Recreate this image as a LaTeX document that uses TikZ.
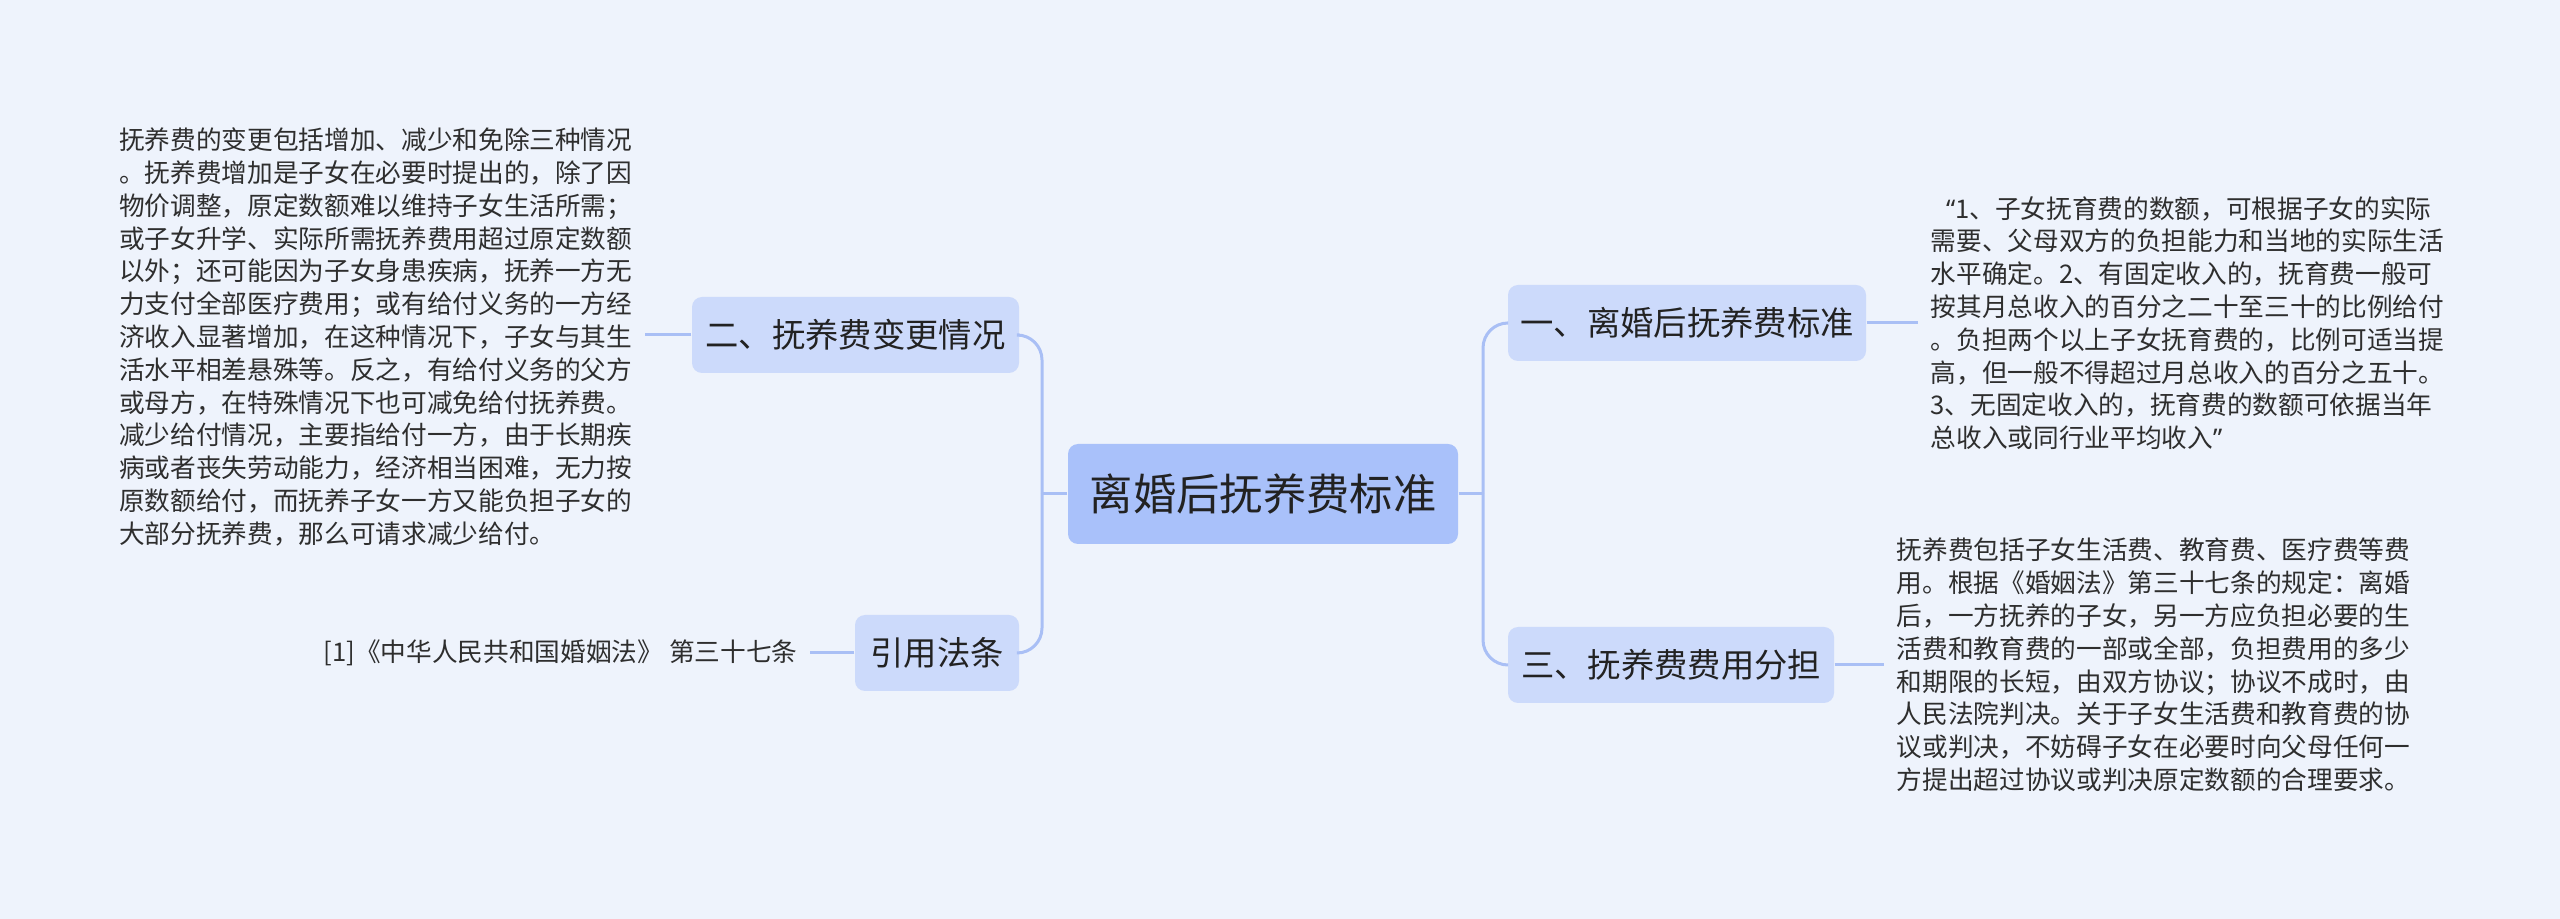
\documentclass[tikz,border=0pt]{standalone}
\usepackage{fontspec}
\setmainfont{Noto Sans CJK SC}
\newfontfamily\quotefont{Noto Sans}
\definecolor{cbg}{HTML}{EEF3FC}
\definecolor{cmain}{HTML}{A9C1FA}
\definecolor{cbranch}{HTML}{CCDAFB}
\definecolor{cline}{HTML}{A9BFF5}
\definecolor{ctext}{HTML}{222222}
\definecolor{cbody}{HTML}{2E2E2E}
\begin{document}
\begin{tikzpicture}[x=0.3pt,y=-0.3pt,
  mainbox/.style={fill=cmain, rounded corners=3pt, minimum width=117pt, minimum height=30pt, font=\fontsize{13}{15}\selectfont, text=ctext, inner sep=0pt},
  branchbox/.style={fill=cbranch, rounded corners=3pt, minimum height=22.8pt, font=\fontsize{10}{12}\selectfont, text=ctext, inner sep=0pt},
  bodytext/.style={font=\fontsize{7.7}{9.84}\selectfont, align=left, inner xsep=3.6pt, inner ysep=0pt, text=cbody},
  link/.style={draw=cline, line width=0.9pt}]
\fill[cbg] (0,0) rectangle (2560,919);
\useasboundingbox (0,0) rectangle (2560,919);

\node[mainbox] (c) at (1263,494) {离婚后抚养费标准};
\node[branchbox, minimum width=107.4pt] (b1) at (1687,323) {一、离婚后抚养费标准};
\node[branchbox, minimum width=97.8pt] (b3) at (1671,665) {三、抚养费费用分担};
\node[branchbox, minimum width=98.1pt] (b2) at (855.5,335) {二、抚养费变更情况};
\node[branchbox, minimum width=49.2pt] (b4) at (937,653) {引用法条};

\node[bodytext, anchor=west] (t1) at (1918,323) {\hspace*{0.6em}{\quotefont “}1、子女抚育费的数额，可根据子女的实际\\
需要、父母双方的负担能力和当地的实际生活\\
水平确定。2、有固定收入的，抚育费一般可\\
按其月总收入的百分之二十至三十的比例给付\\
。负担两个以上子女抚育费的，比例可适当提\\
高，但一般不得超过月总收入的百分之五十。\\
3、无固定收入的，抚育费的数额可依据当年\\
总收入或同行业平均收入{\quotefont ”}};

\node[bodytext, anchor=west] (t3) at (1884,665) {抚养费包括子女生活费、教育费、医疗费等费\\
用。根据《婚姻法》第三十七条的规定：离婚\\
后，一方抚养的子女，另一方应负担必要的生\\
活费和教育费的一部或全部，负担费用的多少\\
和期限的长短，由双方协议；协议不成时，由\\
人民法院判决。关于子女生活费和教育费的协\\
议或判决，不妨碍子女在必要时向父母任何一\\
方提出超过协议或判决原定数额的合理要求。};

\node[bodytext, anchor=east] (t2) at (645,337) {抚养费的变更包括增加、减少和免除三种情况\\
。抚养费增加是子女在必要时提出的，除了因\\
物价调整，原定数额难以维持子女生活所需；\\
或子女升学、实际所需抚养费用超过原定数额\\
以外；还可能因为子女身患疾病，抚养一方无\\
力支付全部医疗费用；或有给付义务的一方经\\
济收入显著增加，在这种情况下，子女与其生\\
活水平相差悬殊等。反之，有给付义务的父方\\
或母方，在特殊情况下也可减免给付抚养费。\\
减少给付情况，主要指给付一方，由于长期疾\\
病或者丧失劳动能力，经济相当困难，无力按\\
原数额给付，而抚养子女一方又能负担子女的\\
大部分抚养费，那么可请求减少给付。};

\node[bodytext, anchor=east] (t4) at (810,653) {[1]《中华人民共和国婚姻法》 第三十七条};

\coordinate (jr) at (1483,494);
\coordinate (jl) at (1042,494);
\draw[link] (c.east) -- (jr);
\draw[link] (c.west) -- (jl);
\draw[link, rounded corners=7.5pt] (jr) |- (b1.west);
\draw[link, rounded corners=7.5pt] (jr) |- (b3.west);
\draw[link, rounded corners=7.5pt] (jl) |- (b2.east);
\draw[link, rounded corners=7.5pt] (jl) |- (b4.east);
\draw[link] (b1.east) -- (b1.east -| t1.west);
\draw[link] (b3.east) -- (b3.east -| t3.west);
\draw[link] (b2.west) -- (b2.west -| t2.east);
\draw[link] (b4.west) -- (b4.west -| t4.east);
\end{tikzpicture}
\end{document}
